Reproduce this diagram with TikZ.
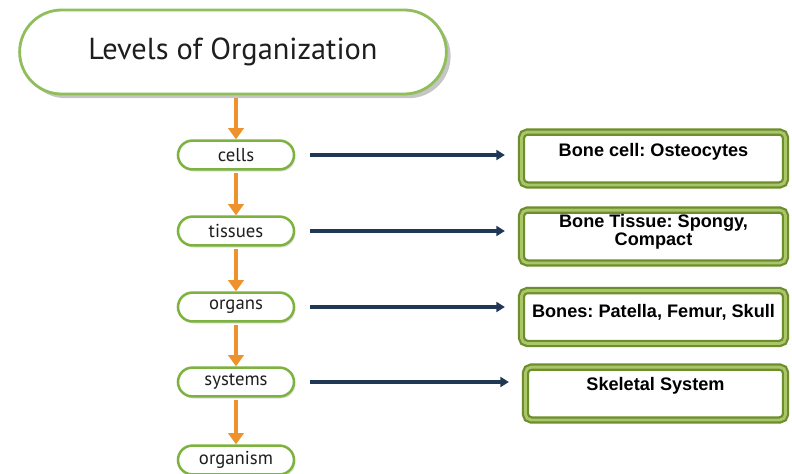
\documentclass[tikz,border=0pt]{standalone}
\usepackage{fontspec}
\setmainfont{Liberation Sans}
\newfontfamily\ptsans{PT Sans}
\usetikzlibrary{arrows.meta, positioning, shapes.misc, shadows}

\definecolor{pillgreen}{RGB}{125,178,62}
\definecolor{boxolive}{RGB}{108,142,44}
\definecolor{boxlight}{RGB}{170,198,105}
\definecolor{levelorange}{RGB}{237,146,44}
\definecolor{linknavy}{RGB}{33,55,86}
\definecolor{labelgray}{RGB}{30,30,30}

\frenchspacing
\newcommand{\boxtxt}[2]{\parbox[c][1.32cm][t]{6.5cm}{\centering\vspace*{#1}#2}}

\tikzset{
  titlepill/.style={rounded rectangle, draw=pillgreen!85, line width=2pt, fill=white,
    minimum width=10.9cm, minimum height=2.1cm,
    drop shadow={opacity=0.45, shadow xshift=3pt, shadow yshift=-3pt},
    text=labelgray, font=\ptsans\fontsize{21.6}{24}\selectfont},
  levelpill/.style={rounded rectangle, draw=pillgreen, line width=1.8pt, fill=white,
    minimum width=2.9cm, minimum height=0.72cm, inner sep=0pt,
    drop shadow={opacity=0.25, shadow xshift=1pt, shadow yshift=-1.5pt},
    text=labelgray, font=\ptsans\fontsize{13.3}{14}\selectfont},
  examplebox/.style={draw=boxolive, double=boxlight, double distance=2pt, line width=1.6pt,
    rounded corners=4pt, fill=white, inner sep=0pt, minimum width=6.6cm, minimum height=1.32cm,
    font=\bfseries\fontsize{12.9}{11}\selectfont},
  levelarrow/.style={levelorange, line width=3.4pt, -{Triangle[length=8pt,width=11pt]}, shorten <=2pt},
  linkarrow/.style={linknavy, line width=2.4pt, -{Triangle[length=6pt,width=7pt]},
    shorten <=10.5pt, shorten >=11pt},
}

\begin{document}
\begin{tikzpicture}[x=0.025cm, y=-0.025cm]
  \clip (0,0) rectangle (792,474);
  \fill[white] (0,0) rectangle (792,474);

  % levels
  \node[titlepill] (title) at (233,52) {Levels of Organization};
  \node[levelpill] (cells) at (236,155) {cells};
  \node[levelpill] (tissues) at (236,231) {tissues};
  \node[levelpill] (organs) at (236,307) {organs};
  \node[levelpill] (systems) at (236,382) {systems};
  \node[levelpill] (organism) at (236,460) {organism};

  % bone examples
  \node[examplebox] (cellbox) at (653.5,158.5) {\boxtxt{8pt}{Bone cell: Osteocytes}};
  \node[examplebox] (tissuebox) at (653.5,236.5) {\boxtxt{3pt}{Bone Tissue: Spongy,\\ Compact}};
  \node[examplebox] (organbox) at (653.5,317) {\boxtxt{9.5pt}{Bones: Patella, Femur, Skull}};
  \node[examplebox, minimum width=6.5cm] (systembox) at (655.5,393.5) {\boxtxt{7.5pt}{Skeletal System}};

  \foreach \a/\b in {title/cells, cells/tissues, tissues/organs, organs/systems, systems/organism}
    \draw[levelarrow] (\b |- \a.south) -- (\b.north);

  \foreach \a/\b in {cells/cellbox, tissues/tissuebox, organs/organbox, systems/systembox}
    \draw[linkarrow] (\a.east) -- (\a.east -| \b.west);
\end{tikzpicture}
\end{document}
